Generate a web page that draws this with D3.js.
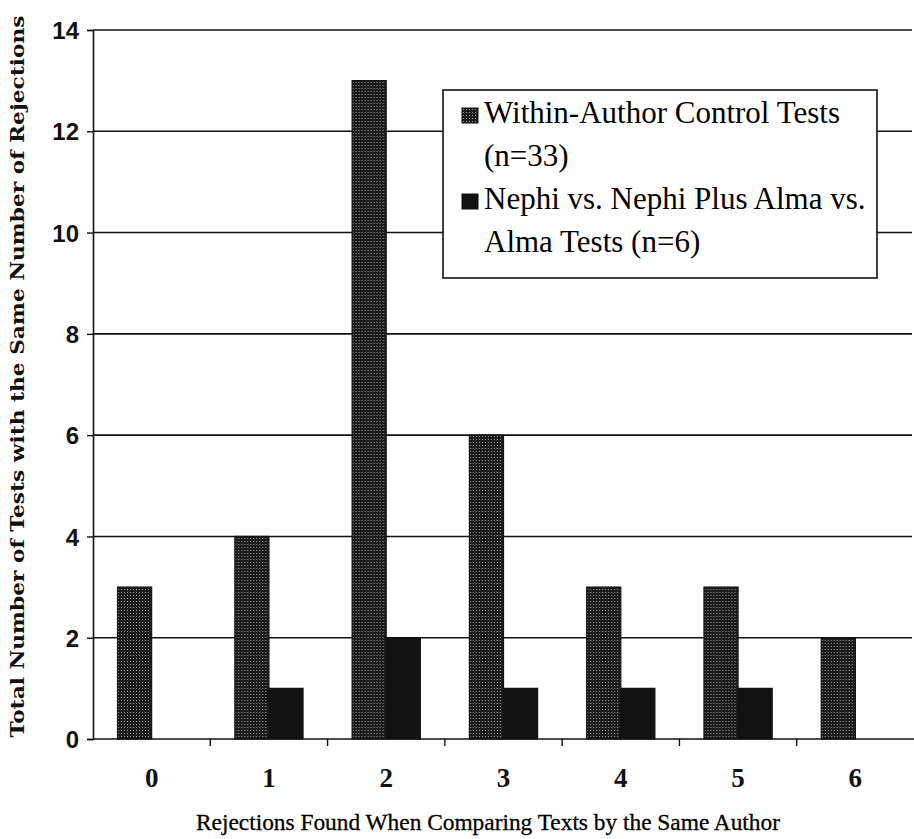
<!DOCTYPE html>
<html lang="en">
<head>
  <meta charset="UTF-8" />
  <title>Rejections Found When Comparing Texts by the Same Author</title>
  <script src="https://d3js.org/d3.v7.min.js"></script>
  <style>
    body {
      margin: 0;
      background: #fff;
    }
    svg {
      display: block;
    }
    .y-label {
      font: bold 24px 'Liberation Sans', sans-serif;
      fill: #111;
    }
    .x-label {
      font: bold 27px 'Liberation Serif', serif;
      fill: #111;
    }
    .legend-text {
      font: 31px 'Liberation Serif', serif;
      fill: #000;
    }
  </style>
</head>
<body>
  <svg></svg>

  <script>
    // values
    const categories = ["0", "1", "2", "3", "4", "5", "6"];
    const withinAuthor = [3, 4, 13, 6, 3, 3, 2];
    const nephiAlma = [0, 1, 2, 1, 1, 1, 0];
    const yTicks = [0, 2, 4, 6, 8, 10, 12, 14];
    const seriesKeys = ["within", "nephi"];
    const legendLines = [
      ["Within-Author Control Tests", "(n=33)"],
      ["Nephi vs. Nephi Plus Alma vs.", "Alma Tests (n=6)"]
    ];

    const width = 914, height = 839;
    const plot = { left: 93, right: 914, top: 30, bottom: 739 };

    const svg = d3.select("svg").attr("width", width).attr("height", height);

    // stipple pattern for the control-test bars
    const defs = svg.append("defs");
    const pat = defs.append("pattern")
      .attr("id", "dots")
      .attr("width", 3).attr("height", 3)
      .attr("patternUnits", "userSpaceOnUse");
    pat.append("rect").attr("width", 3).attr("height", 3).attr("fill", "#1c1c1c");
    pat.append("rect").attr("x", 1).attr("y", 1).attr("width", 1).attr("height", 1).attr("fill", "#9a9a9a");

    const x0 = d3.scaleBand()
      .domain(categories)
      .range([plot.left, plot.right]);

    const x1 = d3.scaleBand()
      .domain(seriesKeys)
      .range([0, x0.bandwidth()])
      .paddingOuter(0.72);

    const y = d3.scaleLinear()
      .domain([0, 14])
      .range([plot.bottom, plot.top]);

    const fills = { within: "url(#dots)", nephi: "#111" };

    // gridlines
    svg.append("g")
      .selectAll("line")
      .data(yTicks.filter(d => d > 0))
      .join("line")
      .attr("x1", plot.left)
      .attr("x2", plot.right - 2)
      .attr("y1", d => y(d))
      .attr("y2", d => y(d))
      .attr("stroke", "#111")
      .attr("stroke-width", 1.6);

    // bars
    const rows = categories.map((c, i) => ({ cat: c, within: withinAuthor[i], nephi: nephiAlma[i] }));
    svg.append("g")
      .selectAll("g")
      .data(rows)
      .join("g")
      .attr("transform", d => `translate(${x0(d.cat)},0)`)
      .selectAll("rect")
      .data(d => seriesKeys.map(k => ({ key: k, value: d[k] })).filter(d => d.value > 0))
      .join("rect")
      .attr("x", d => x1(d.key))
      .attr("width", x1.bandwidth())
      .attr("y", d => y(d.value))
      .attr("height", d => y(0) - y(d.value))
      .attr("fill", d => fills[d.key])
      .attr("stroke", "#111")
      .attr("stroke-width", 1.2);

    // y axis
    const yAxis = svg.append("g")
      .attr("transform", `translate(${plot.left},0)`)
      .call(d3.axisLeft(y).tickValues(yTicks).tickSize(6).tickPadding(8));
    yAxis.attr("font-size", null).attr("font-family", null);
    yAxis.select(".domain").attr("stroke", "#111").attr("stroke-width", 1.6);
    yAxis.selectAll(".tick line").attr("stroke", "#111").attr("stroke-width", 1.4);
    yAxis.selectAll(".tick text").attr("class", "y-label").attr("dy", "0.36em");

    // x axis: ticks between categories
    svg.append("line")
      .attr("x1", plot.left).attr("x2", plot.right)
      .attr("y1", y(0)).attr("y2", y(0))
      .attr("stroke", "#111").attr("stroke-width", 1.6);
    svg.append("g")
      .selectAll("line")
      .data(categories.slice(1))
      .join("line")
      .attr("x1", d => x0(d)).attr("x2", d => x0(d))
      .attr("y1", y(0)).attr("y2", y(0) + 7)
      .attr("stroke", "#111").attr("stroke-width", 1.4);
    svg.append("g")
      .selectAll("text")
      .data(categories)
      .join("text")
      .attr("class", "x-label")
      .attr("x", d => x0(d) + x0.bandwidth() / 2)
      .attr("y", y(0) + 48)
      .attr("text-anchor", "middle")
      .text(d => d);

    // axis titles
    svg.append("text")
      .attr("x", (196 + 780) / 2)
      .attr("y", 830)
      .attr("text-anchor", "middle")
      .attr("textLength", 584)
      .attr("lengthAdjust", "spacingAndGlyphs")
      .style("font", "24px 'Liberation Serif', serif")
      .style("fill", "#000")
      .style("stroke", "#000")
      .style("stroke-width", 0.3)
      .text("Rejections Found When Comparing Texts by the Same Author");

    svg.append("text")
      .attr("transform", `translate(24,${(15 + 738) / 2}) rotate(-90)`)
      .attr("text-anchor", "middle")
      .attr("textLength", 722)
      .attr("lengthAdjust", "spacingAndGlyphs")
      .style("font", "bold 19px 'DejaVu Serif', serif")
      .style("fill", "#111")
      .text("Total Number of Tests with the Same Number of Rejections");

    // legend
    const legend = svg.append("g");
    legend.append("rect")
      .attr("x", 443).attr("y", 90)
      .attr("width", 434).attr("height", 188)
      .attr("fill", "#fff")
      .attr("stroke", "#111")
      .attr("stroke-width", 1.6);

    legendLines.forEach((lines, i) => {
      const base = 123 + i * 86;
      legend.append("rect")
        .attr("x", 462).attr("y", base - 15)
        .attr("width", 16).attr("height", 15)
        .attr("fill", fills[seriesKeys[i]])
        .attr("stroke", "#111");
      lines.forEach((t, j) => {
        legend.append("text")
          .attr("class", "legend-text")
          .attr("x", 484)
          .attr("y", base + j * 43)
          .text(t);
      });
    });
  </script>
</body>
</html>
